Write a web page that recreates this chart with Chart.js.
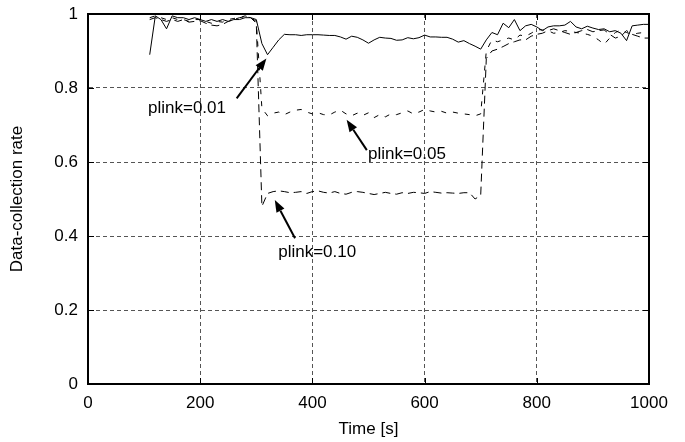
<!DOCTYPE html>
<html>
<head>
<meta charset="utf-8">
<script src="https://cdn.jsdelivr.net/npm/chart.js@4"></script>
<style>
  body { margin: 0; background: #fff; }
  canvas { display: block; }
</style>
</head>
<body>
<canvas id="rateChart" width="685" height="442"></canvas>
<script>
// Tiempo de muestreo [s]
const times = [110, 120, 130, 140, 150, 160, 170, 180, 190, 200,
    210, 220, 230, 240, 250, 260, 270, 280, 290, 300,
    310, 320, 330, 340, 350, 360, 370, 380, 390, 400,
    410, 420, 430, 440, 450, 460, 470, 480, 490, 500,
    510, 520, 530, 540, 550, 560, 570, 580, 590, 600,
    610, 620, 630, 640, 650, 660, 670, 680, 690, 700,
    710, 720, 730, 740, 750, 760, 770, 780, 790, 800,
    810, 820, 830, 840, 850, 860, 870, 880, 890, 900,
    910, 920, 930, 940, 950, 960, 970, 980, 990, 1000];

// Tasa de recolección para cada plink
const rate001 = [0.89, 0.995, 0.985, 0.96, 0.995, 0.99, 0.99, 0.985, 0.99, 0.985,
    0.98, 0.985, 0.98, 0.985, 0.98, 0.985, 0.985, 0.99, 0.99, 0.985,
    0.92, 0.89, 0.91, 0.93, 0.945, 0.944, 0.944, 0.942, 0.944, 0.944,
    0.944, 0.943, 0.942, 0.942, 0.938, 0.932, 0.94, 0.937, 0.93, 0.921,
    0.93, 0.937, 0.935, 0.934, 0.929, 0.93, 0.936, 0.933, 0.936, 0.943,
    0.938, 0.938, 0.937, 0.937, 0.932, 0.924, 0.928, 0.92, 0.913, 0.905,
    0.93, 0.95, 0.944, 0.975, 0.963, 0.985, 0.955, 0.968, 0.972, 0.965,
    0.955, 0.965, 0.968, 0.968, 0.97, 0.98, 0.965, 0.96, 0.967, 0.962,
    0.958, 0.96, 0.952, 0.955, 0.948, 0.928, 0.968, 0.97, 0.972, 0.972];

const rate005 = [0.99, 0.995, 0.99, 0.985, 0.99, 0.985, 0.985, 0.98, 0.985, 0.985,
    0.98, 0.975, 0.98, 0.978, 0.985, 0.988, 0.99, 0.995, 0.99, 0.98,
    0.745, 0.725, 0.732, 0.735, 0.728, 0.735, 0.74, 0.742, 0.735, 0.73,
    0.733, 0.728, 0.727, 0.735, 0.74, 0.73, 0.725, 0.732, 0.726, 0.733,
    0.72, 0.728, 0.722, 0.73, 0.728, 0.733, 0.738, 0.73, 0.735, 0.742,
    0.738, 0.735, 0.737, 0.732, 0.735, 0.732, 0.73, 0.728, 0.725, 0.73,
    0.9, 0.93, 0.925, 0.93, 0.935, 0.93, 0.943, 0.94, 0.948, 0.958,
    0.957, 0.955, 0.948, 0.95, 0.955, 0.953, 0.95, 0.948, 0.945, 0.94,
    0.93, 0.918, 0.935, 0.95, 0.957, 0.95, 0.945, 0.948, 0.95, 0.948];

const rate010 = [0.985, 0.99, 0.985, 0.98, 0.985, 0.98, 0.985, 0.978, 0.98, 0.982,
    0.975, 0.97, 0.968, 0.972, 0.98, 0.985, 0.99, 0.993, 0.99, 0.975,
    0.48, 0.515, 0.52, 0.522, 0.52, 0.517, 0.518, 0.52, 0.515, 0.52,
    0.522, 0.518, 0.516, 0.52, 0.515, 0.513, 0.518, 0.52, 0.518, 0.515,
    0.512, 0.515, 0.518, 0.515, 0.513, 0.517, 0.515, 0.518, 0.517, 0.515,
    0.52, 0.518, 0.516, 0.517, 0.516, 0.515, 0.517, 0.517, 0.5, 0.51,
    0.88, 0.9, 0.905, 0.912, 0.92, 0.925, 0.93, 0.93, 0.94, 0.945,
    0.948, 0.955, 0.96, 0.955, 0.95, 0.945, 0.95, 0.955, 0.958, 0.952,
    0.955, 0.957, 0.945, 0.935, 0.94, 0.955, 0.945, 0.94, 0.935, 0.935];

// Etiquetas con flecha: texto, posición del texto, cola y punta de la flecha
const notes = [
    { text: 'plink=0.01', tx: 107, ty: 0.732, from: [265, 0.772], to: [318, 0.880] },
    { text: 'plink=0.05', tx: 499, ty: 0.607, from: [497, 0.632], to: [461, 0.714] },
    { text: 'plink=0.10', tx: 339, ty: 0.344, from: [369, 0.394], to: [333, 0.497] }
];

const FONT = '"Liberation Sans", Arial, Helvetica, sans-serif';

function toPoints(values) {
    return times.map((t, i) => ({ x: t, y: values[i] }));
}

// Marco, marcas de los ejes y anotaciones
const framePlugin = {
    id: 'frame',
    afterDatasetsDraw(chart) {
        const ctx = chart.ctx;
        const a = chart.chartArea;
        const xs = chart.scales.x, ys = chart.scales.y;
        ctx.save();
        ctx.strokeStyle = '#000';
        ctx.lineWidth = 1;
        xs.ticks.forEach(t => {
            const px = Math.round(xs.getPixelForValue(t.value)) + 0.5;
            ctx.beginPath();
            ctx.moveTo(px, a.bottom); ctx.lineTo(px, a.bottom - 6);
            ctx.moveTo(px, a.top); ctx.lineTo(px, a.top + 6);
            ctx.stroke();
        });
        ys.ticks.forEach(t => {
            const py = Math.round(ys.getPixelForValue(t.value)) + 0.5;
            ctx.beginPath();
            ctx.moveTo(a.left, py); ctx.lineTo(a.left + 6, py);
            ctx.moveTo(a.right, py); ctx.lineTo(a.right - 6, py);
            ctx.stroke();
        });
        ctx.lineWidth = 2;
        ctx.strokeRect(a.left, a.top, a.right - a.left, a.bottom - a.top);

        ctx.font = '17px ' + FONT;
        ctx.fillStyle = '#000';
        ctx.textBaseline = 'alphabetic';
        notes.forEach(n => {
            const x0 = xs.getPixelForValue(n.from[0]), y0 = ys.getPixelForValue(n.from[1]);
            const x1 = xs.getPixelForValue(n.to[0]), y1 = ys.getPixelForValue(n.to[1]);
            const ang = Math.atan2(y1 - y0, x1 - x0);
            const len = 12, half = 4.5;
            const bx = x1 - len * Math.cos(ang), by = y1 - len * Math.sin(ang);
            ctx.lineWidth = 2;
            ctx.beginPath();
            ctx.moveTo(x0, y0); ctx.lineTo(bx, by);
            ctx.stroke();
            ctx.beginPath();
            ctx.moveTo(x1, y1);
            ctx.lineTo(bx + half * Math.sin(ang), by - half * Math.cos(ang));
            ctx.lineTo(bx - half * Math.sin(ang), by + half * Math.cos(ang));
            ctx.closePath();
            ctx.fill();
            ctx.fillText(n.text, xs.getPixelForValue(n.tx), ys.getPixelForValue(n.ty));
        });
        ctx.restore();
    }
};

Chart.defaults.font.family = FONT;
Chart.defaults.font.size = 17;
Chart.defaults.color = '#000';

const rateChart = new Chart(document.getElementById('rateChart').getContext('2d'), {
    type: 'line',
    data: {
        datasets: [
            { label: 'plink=0.01', data: toPoints(rate001), borderColor: '#000', borderWidth: 1 },
            { label: 'plink=0.05', data: toPoints(rate005), borderColor: '#000', borderWidth: 1, borderDash: [5, 7] },
            { label: 'plink=0.10', data: toPoints(rate010), borderColor: '#000', borderWidth: 1, borderDash: [8, 5] }
        ]
    },
    options: {
        responsive: false,
        animation: false,
        layout: { padding: { top: 14, right: 36, left: 0, bottom: 0 } },
        elements: { point: { radius: 0 }, line: { tension: 0 } },
        plugins: { legend: { display: false }, tooltip: { enabled: false } },
        scales: {
            x: {
                type: 'linear',
                min: 0, max: 1000,
                afterFit(scale) {
                    scale.height = 58;
                    scale.paddingLeft = 0;
                    scale.paddingRight = 0;
                },
                ticks: { stepSize: 200, padding: 9, maxRotation: 0, autoSkip: false, callback: v => String(v) },
                grid: { color: '#555', drawTicks: false },
                border: { display: true, color: '#000', width: 2, dash: [4, 3] },
                title: { display: true, text: 'Time [s]', padding: { top: 0, bottom: 2 } }
            },
            y: {
                min: 0, max: 1,
                afterFit(scale) {
                    scale.width = 88;
                    scale.paddingTop = 0;
                    scale.paddingBottom = 0;
                },
                ticks: { stepSize: 0.2, padding: 10, callback: v => String(Math.round(v * 10) / 10) },
                grid: { color: '#555', drawTicks: false },
                border: { display: true, color: '#000', width: 2, dash: [4, 3] },
                title: { display: true, text: 'Data-collection rate', padding: { top: 7, bottom: 0 } }
            }
        }
    },
    plugins: [framePlugin]
});
</script>
</body>
</html>
